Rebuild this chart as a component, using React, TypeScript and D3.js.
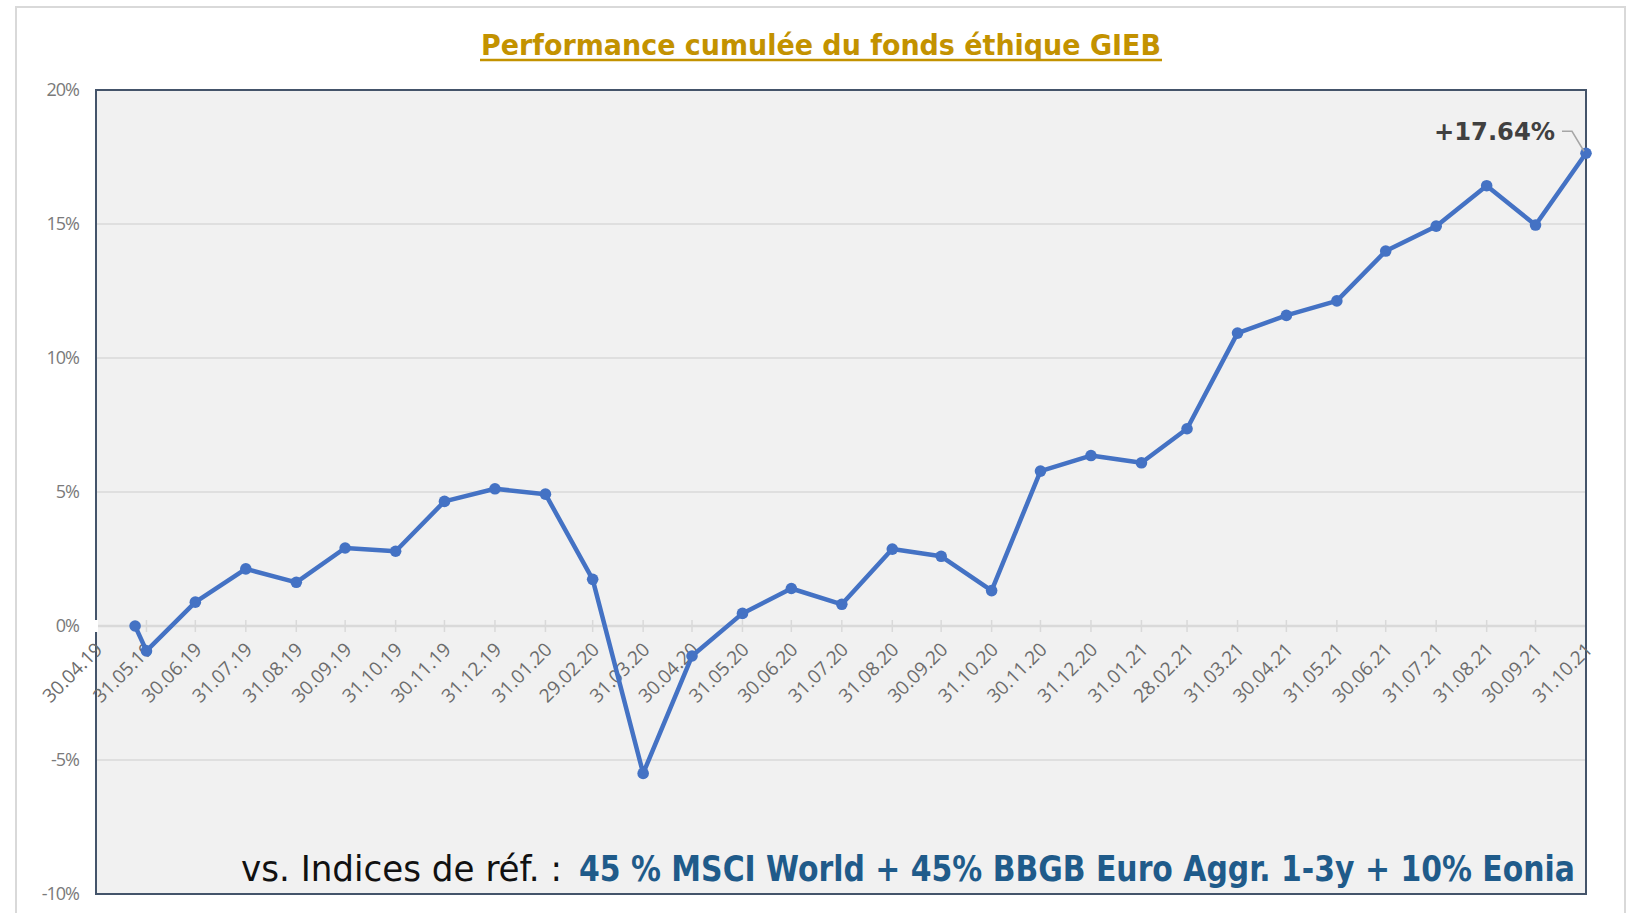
import React from "react";
import * as d3 from "d3";

const tickLabels = [
  "30.04.19","31.05.19","30.06.19","31.07.19","31.08.19","30.09.19","31.10.19","30.11.19","31.12.19",
  "31.01.20","29.02.20","31.03.20","30.04.20","31.05.20","30.06.20","31.07.20","31.08.20","30.09.20",
  "31.10.20","30.11.20","31.12.20","31.01.21","28.02.21","31.03.21","30.04.21","31.05.21","30.06.21",
  "31.07.21","31.08.21","30.09.21","31.10.21",
];

const pointDates = [
  "24.05.19","31.05.19","30.06.19","31.07.19","31.08.19","30.09.19","31.10.19","30.11.19","31.12.19",
  "31.01.20","29.02.20","31.03.20","30.04.20","31.05.20","30.06.20","31.07.20","31.08.20","30.09.20",
  "31.10.20","30.11.20","31.12.20","31.01.21","28.02.21","31.03.21","30.04.21","31.05.21","30.06.21",
  "31.07.21","31.08.21","30.09.21","31.10.21",
];

const performance = [
  0, -0.93, 0.89, 2.13, 1.63, 2.91, 2.79, 4.65, 5.12, 4.92, 1.74, -5.5, -1.12, 0.47, 1.4, 0.81, 2.87,
  2.6, 1.32, 5.78, 6.36, 6.09, 7.36, 10.93, 11.59, 12.13, 13.99, 14.92, 16.43, 14.96, 17.64,
];

const yTicks = [20, 15, 10, 5, 0, -5, -10];

const titleText = "Performance cumulée du fonds éthique GIEB";
const lastLabel = "+17.64%";
const footBlack = "vs. Indices de réf. :";
const footBlue = "45 % MSCI World + 45% BBGB Euro Aggr. 1-3y + 10% Eonia";

const parse = d3.timeParse("%d.%m.%y");

export default function App() {
  const W = 1629, H = 913;
  const left = 96, right = 1586, top = 90, bottom = 894;
  const tickDates = tickLabels.map((s) => parse(s) as Date);
  const x = d3.scaleTime().domain([tickDates[0], tickDates[tickDates.length - 1]]).range([left, right]);
  const y = d3.scaleLinear().domain([-10, 20]).range([bottom, top]);
  const pts = pointDates.map((s, i) => ({ d: parse(s) as Date, v: performance[i] }));
  const line = d3.line<{ d: Date; v: number }>().x((p) => x(p.d)).y((p) => y(p.v));
  const y0 = y(0);
  const last = pts[pts.length - 1];
  const lx = x(last.d), ly = y(last.v);

  return (
    <div style={{ position: "absolute", left: 0, top: 0 }}>
      <svg width={W} height={H} style={{ display: "block" }}>
        <rect x={0} y={0} width={W} height={H} fill="#ffffff" />
        <path d={`M16,${H} L16,7 L1625,7 L1625,${H}`} fill="none" stroke="#d9d9d9" strokeWidth={2} />
        <text x={821} y={55} textAnchor="middle" fontFamily="'DejaVu Sans', sans-serif" fontWeight="bold"
          fontSize={28} fill="#c39200" textLength={680} lengthAdjust="spacingAndGlyphs">{titleText}</text>
        <line x1={480} x2={1162} y1={60} y2={60} stroke="#c39200" strokeWidth={2.5} />

        <rect x={left} y={top} width={right - left} height={bottom - top} fill="#f1f1f1" />
        {yTicks.filter((t) => t !== 20 && t !== -10).map((t) => (
          <line key={t} x1={left} x2={right} y1={y(t)} y2={y(t)} stroke="#d9d9d9" strokeWidth={t === 0 ? 2.5 : 1.5} />
        ))}
        {tickDates.map((d, i) => (
          <line key={i} x1={x(d)} x2={x(d)} y1={y0 - 6} y2={y0 + 6} stroke="#d9d9d9" strokeWidth={1.5} />
        ))}
        <rect x={left} y={top} width={right - left} height={bottom - top} fill="none" stroke="#44546a" strokeWidth={2} />
        <rect x={left - 2} y={y0 - 6} width={4} height={12} fill="#ffffff" />

        {yTicks.map((t) => (
          <text key={t} x={79} y={y(t)} dy="0.35em" textAnchor="end" fontFamily="'Open Sans', sans-serif"
            fontSize={18} fill="#7a7a7a" letterSpacing={-1}>{`${t}%`}</text>
        ))}

        {tickLabels.map((s, i) => {
          const tx = x(tickDates[i]) + 3, ty = y0 + 20;
          return (
            <text key={s} x={tx} y={ty} dy="0.35em" textAnchor="end" transform={`rotate(-45 ${tx} ${ty})`}
              fontFamily="'Open Sans', sans-serif" fontSize={19} fill="#6b6b6b">{s}</text>
          );
        })}

        <path d={line(pts) || ""} fill="none" stroke="#4472c4" strokeWidth={4.5} strokeLinejoin="round" />
        {pts.map((p, i) => (
          <circle key={i} cx={x(p.d)} cy={y(p.v)} r={5.8} fill="#4472c4" />
        ))}

        <path d={`M${lx - 24},${ly - 22} L${lx - 14},${ly - 22} L${lx - 2},${ly - 2}`} fill="none" stroke="#a6a6a6" strokeWidth={1.5} />
        <text x={1555} y={140} textAnchor="end" fontFamily="'DejaVu Sans', sans-serif" fontWeight="bold"
          fontSize={25} fill="#404040" textLength={121} lengthAdjust="spacingAndGlyphs">{lastLabel}</text>

        <text x={241} y={881} fontFamily="'DejaVu Sans Condensed', 'DejaVu Sans', sans-serif" fontSize={35}
          fill="#111111" textLength={321} lengthAdjust="spacingAndGlyphs">{footBlack}</text>
        <text x={579} y={881} fontFamily="'DejaVu Sans Condensed', 'DejaVu Sans', sans-serif" fontWeight="bold" fontSize={35}
          fill="#1f5b8a" textLength={996} lengthAdjust="spacingAndGlyphs">{footBlue}</text>
      </svg>
    </div>
  );
}
